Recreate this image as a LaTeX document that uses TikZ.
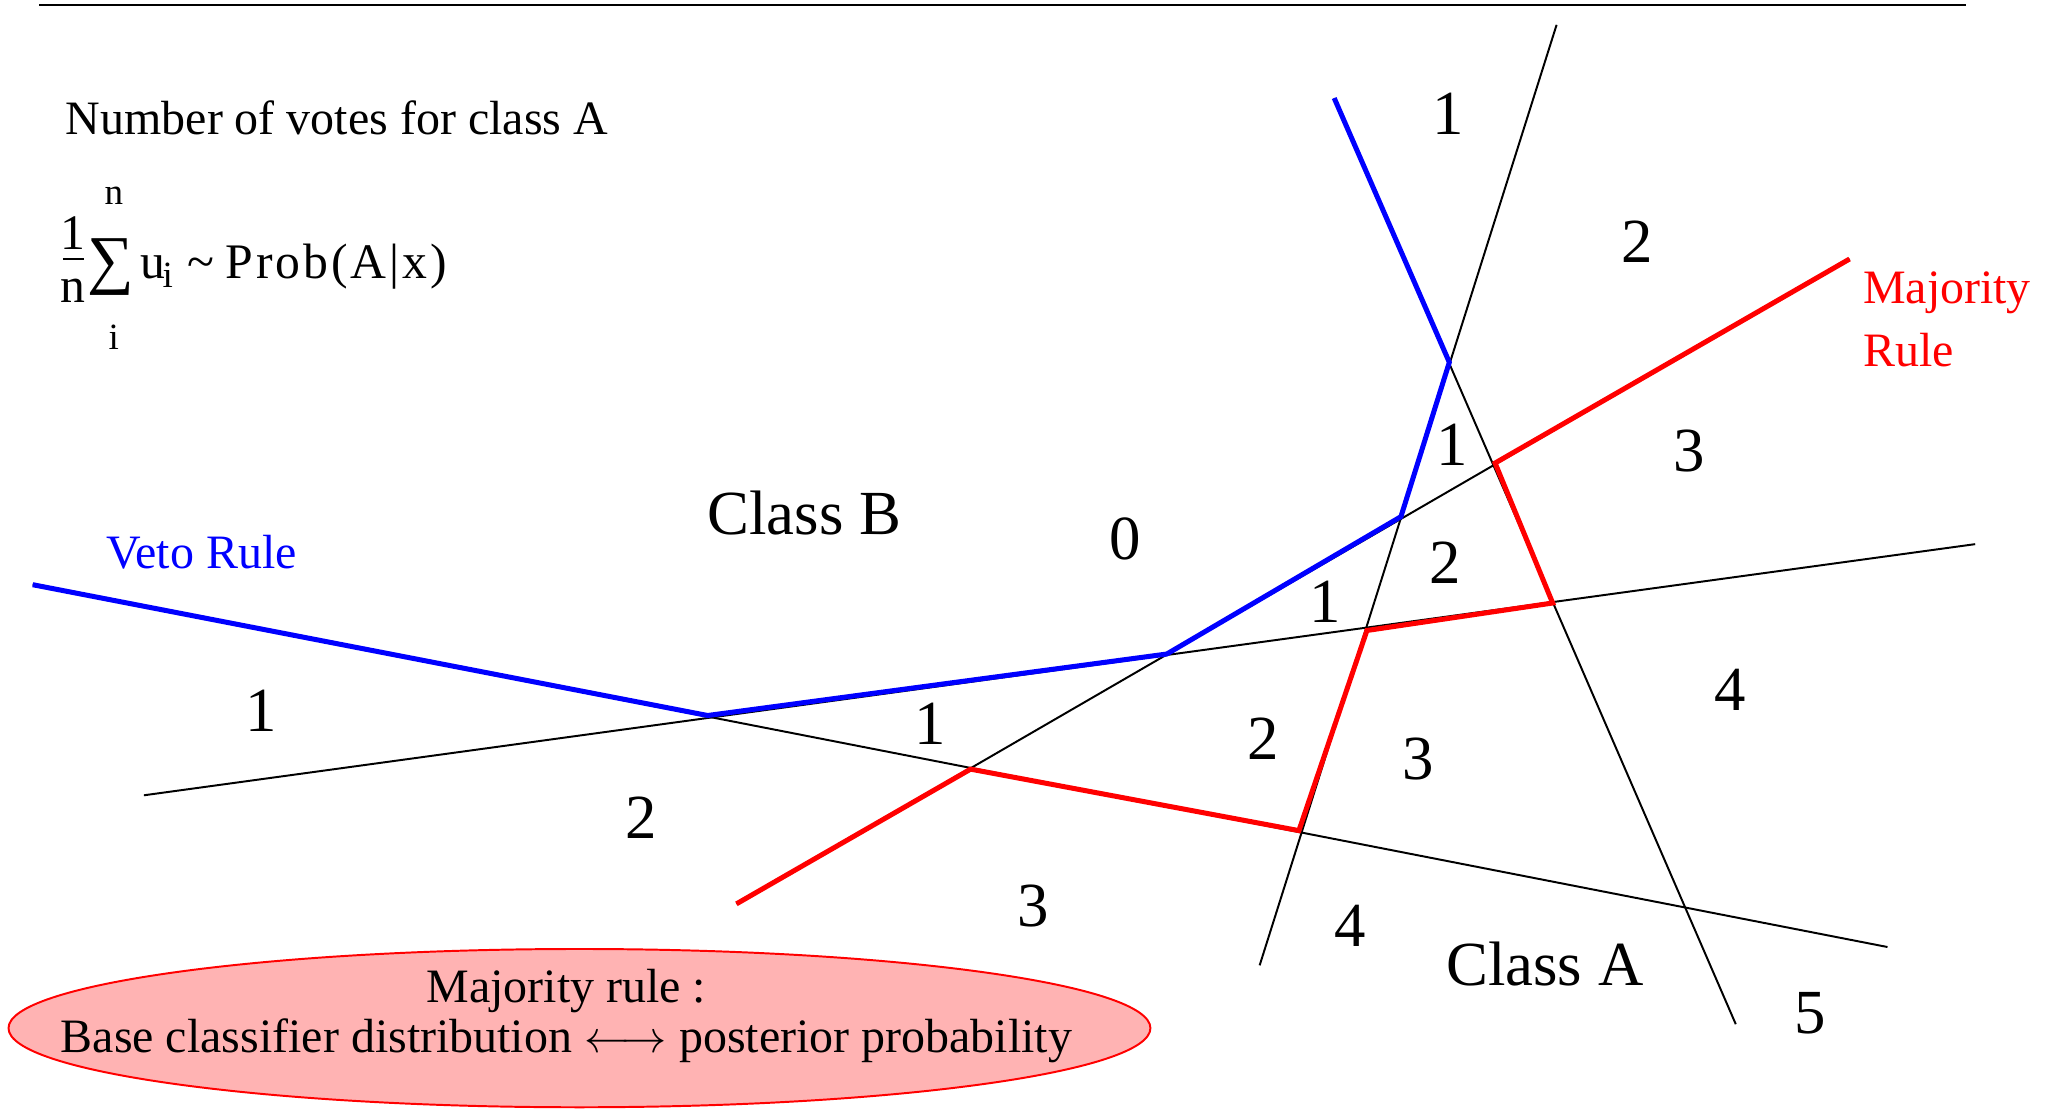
\documentclass[tikz,border=0pt]{standalone}
\usepackage{fontspec}
\setmainfont{Liberation Serif}
\usetikzlibrary{shapes.geometric}
\definecolor{pinkfill}{RGB}{255,179,179}
\begin{document}
\begin{tikzpicture}[x=0.6pt,y=-0.6pt,
  bl/.style={line width=0.9pt, black},
  veto/.style={line width=2.3pt, blue, line join=miter},
  maj/.style={line width=2.3pt, red, line join=miter},
  num/.style={inner sep=0, font=\fontsize{28.8}{30}\selectfont},
  lab/.style={inner sep=0, font=\fontsize{22}{23}\selectfont},
  big/.style={inner sep=0, font=\fontsize{28.8}{30}\selectfont},
  frm/.style={inner sep=0, font=\fontsize{22.8}{24}\selectfont},
  small/.style={inner sep=0, font=\fontsize{17}{18}\selectfont}]
\useasboundingbox (0,0) rectangle (1568,850);
% top rule
\coordinate (t1) at (30,4); \coordinate (t2) at (1503,4);
\draw[line width=0.9pt] (t1) -- (t2);
% black lines
\coordinate (a1) at (110,608); \coordinate (a2) at (1510,416);
\coordinate (b1) at (25,447);  \coordinate (b2) at (1443,724);
\coordinate (c1) at (563,691); \coordinate (c2) at (1414,198);
\coordinate (d1) at (1190,19); \coordinate (d2) at (963,738);
\coordinate (e1) at (1020,75); \coordinate (e2) at (1327,783);
\draw[bl] (a1) -- (a2);
\draw[bl] (b1) -- (b2);
\draw[bl] (c1) -- (c2);
\draw[bl] (d1) -- (d2);
\draw[bl] (e1) -- (e2);
% vertices
\coordinate (v1) at (541,547);
\coordinate (v2) at (892,500);
\coordinate (v3) at (1071,395);
\coordinate (v4) at (1108,277);
\coordinate (m1) at (742,588);
\coordinate (m2) at (993,635);
\coordinate (m3) at (1045,482);
\coordinate (m4) at (1187,461);
\coordinate (m5) at (1143,354);
\draw[veto] (b1) -- (v1) -- (v2) -- (v3) -- (v4) -- (e1);
\draw[maj] (c1) -- (m1) -- (m2) -- (m3) -- (m4) -- (m5) -- (c2);
% region numbers
\node[num] (n01) at (1107,87) {1};
\node[num] (n02) at (1252,185) {2};
\node[num] (n03) at (1291,345) {3};
\node[num] (n04) at (1110,340) {1};
\node[num] (n05) at (1105,430) {2};
\node[num] (n06) at (1013,460) {1};
\node[num] (n07) at (860,412) {0};
\node[num] (n08) at (1323,527) {4};
\node[num] (n09) at (1084,580) {3};
\node[num] (n10) at (966,565) {2};
\node[num] (n11) at (711,553) {1};
\node[num] (n12) at (200,543) {1};
\node[num] (n13) at (490,625) {2};
\node[num] (n14) at (790,693) {3};
\node[num] (n15) at (1032,708) {4};
\node[num] (n16) at (1384,775) {5};
\node[big] (classA) at (1181,737) {Class A};
\node[big] (classB) at (615,392) {Class B};
\node[lab, text=blue] (veto) at (154,422) {Veto Rule};
\node[lab, text=red, anchor=west] (maj1) at (1424,224) {Majority};
\node[lab, text=red, anchor=west] (maj2) at (1424,268) {Rule};
% heading and formula
\node[frm, anchor=west, font=\fontsize{22}{24}\selectfont] (votes) at (50,90) {Number of votes for class A};
\node[frm] (one) at (56,178) {1};
\draw[line width=0.9pt] (48,198) -- (64,198);
\node[frm] (en) at (56,222) {n};
\node[inner sep=0, font=\fontsize{30}{30}\selectfont] (sum) at (85,204) {∑};
\node[small] (top) at (87,150) {n};
\node[small] (bot) at (87,258) {i};
\node[frm, anchor=base west] (u) at (107,213) {u};
\node[small, anchor=base west] (ui) at (124,220) {i};
\node[frm, anchor=base west] (tl) at (143,213) {\char"007E};
\node[frm, anchor=base west] (prob) at (172,213) {\addfontfeature{LetterSpace=6}Prob(A|x)};
% ellipse
\node[draw=red, line width=0.9pt, fill=pinkfill, ellipse, minimum width=873*0.6pt, minimum height=121*0.6pt, inner sep=0] (ell) at (443,786) {};
\node[frm, align=center, font=\fontsize{22}{22.8}\selectfont] (elltext) at (433,777) {Majority rule :\\Base classifier distribution $\longleftrightarrow$ posterior probability};
\end{tikzpicture}
\end{document}
